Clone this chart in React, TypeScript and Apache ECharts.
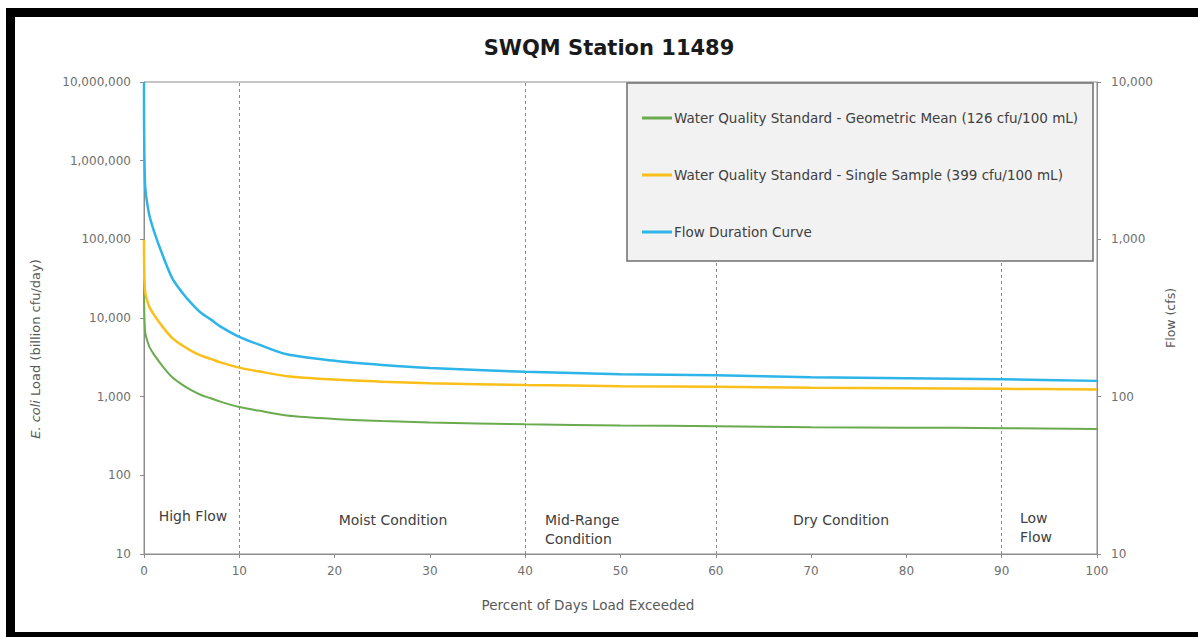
import React, { useEffect, useRef } from "react";
import * as echarts from "echarts";

const percentExceeded = [0, 0.1, 0.5, 1, 2, 3, 4, 5, 6, 7, 8, 10, 12, 15, 20, 25, 30, 40, 50, 60, 70, 80, 90, 100];
const geoMeanLoad = [31000, 7100, 4500, 3500, 2400, 1750, 1420, 1200, 1050, 955, 865, 740, 665, 575, 520, 490, 470, 445, 430, 422, 410, 404, 398, 388];
const singleSampleLoad = [98000, 22500, 14400, 11200, 7600, 5500, 4500, 3800, 3320, 3020, 2730, 2340, 2100, 1820, 1650, 1550, 1480, 1410, 1360, 1340, 1300, 1280, 1260, 1230];
const flowCfs = [10000, 2300, 1480, 1150, 780, 560, 460, 390, 340, 310, 280, 240, 215, 186, 169, 159, 152, 144, 139, 137, 133, 131, 129, 126];
const conditionBreaks = [10, 40, 60, 90];
const seriesNames = [
  "Water Quality Standard - Geometric Mean (126 cfu/100 mL)",
  "Water Quality Standard - Single Sample (399 cfu/100 mL)",
  "Flow Duration Curve",
];

const FONT = "DejaVu Sans";
const fmt = (v: number) => Math.round(v).toLocaleString("en-US");

export default function App() {
  const ref = useRef<HTMLDivElement>(null);
  useEffect(() => {
    if (!ref.current) return;
    const chart = echarts.init(ref.current, undefined, { renderer: "svg" });
    const pair = (arr: number[]) => percentExceeded.map((x, i) => [x, arr[i]]);
    const labelStyle = { color: "#6f6f6f", fontFamily: FONT, fontSize: 12 };
    const regionText = (text: string, x: number, y: number, align: string) => ({
      type: "text",
      x,
      y,
      z: 5,
      style: { text, fill: "#404040", font: `14px ${FONT}`, align, verticalAlign: "middle", lineHeight: 19 },
    });
    chart.setOption({
      animation: false,
      backgroundColor: "#ffffff",
      title: {
        text: "SWQM Station 11489",
        left: 604,
        top: 32,
        textAlign: "center",
        textStyle: { fontFamily: FONT, fontWeight: "bold", fontSize: 21, color: "#1a1a1a" },
      },
      grid: { left: 144, right: 101, top: 82, bottom: 83, show: true, borderColor: "#8c8c8c", borderWidth: 1 },
      legend: {
        orient: "vertical",
        left: 637,
        top: 106,
        icon: "rect",
        itemWidth: 30,
        itemHeight: 3,
        itemGap: 43,
        z: 20,
        textStyle: { fontFamily: FONT, fontSize: 13.5, color: "#404040", padding: [0, 0, 0, -3] },
        data: seriesNames,
      },
      xAxis: {
        type: "value",
        min: 0,
        max: 100,
        interval: 10,
        axisLine: { lineStyle: { color: "#8c8c8c" } },
        axisTick: { show: true, length: 4, lineStyle: { color: "#8c8c8c" } },
        axisLabel: { ...labelStyle, margin: 11 },
        splitLine: { show: false },
      },
      yAxis: [
        {
          type: "log",
          logBase: 10,
          min: 10,
          max: 10000000,
          splitNumber: 6,
          axisLine: { show: true, lineStyle: { color: "#8c8c8c" } },
          axisTick: { show: true, length: 4, lineStyle: { color: "#8c8c8c" } },
          axisLabel: { ...labelStyle, margin: 13, formatter: (v: number) => fmt(v) },
          splitLine: { show: false },
        },
        {
          type: "log",
          logBase: 10,
          min: 10,
          max: 10000,
          splitNumber: 3,
          position: "right",
          axisLine: { show: true, lineStyle: { color: "#8c8c8c" } },
          axisTick: { show: true, length: 4, lineStyle: { color: "#8c8c8c" } },
          axisLabel: { ...labelStyle, margin: 14, formatter: (v: number) => fmt(v) },
          splitLine: { show: false },
        },
      ],
      series: [
        {
          name: seriesNames[0],
          type: "line",
          yAxisIndex: 0,
          symbol: "none",
          smooth: 0.3,
          data: pair(geoMeanLoad),
          lineStyle: { color: "#6aab4f", width: 2 },
          itemStyle: { color: "#6aab4f" },
          z: 3,
        },
        {
          name: seriesNames[1],
          type: "line",
          yAxisIndex: 0,
          symbol: "none",
          smooth: 0.3,
          data: pair(singleSampleLoad),
          lineStyle: { color: "#fbbf1a", width: 2.5 },
          itemStyle: { color: "#fbbf1a" },
          z: 3,
        },
        {
          name: seriesNames[2],
          type: "line",
          yAxisIndex: 1,
          symbol: "none",
          smooth: 0.3,
          data: pair(flowCfs),
          lineStyle: { color: "#2db4e8", width: 2.5 },
          itemStyle: { color: "#2db4e8" },
          z: 3,
          markLine: {
            silent: true,
            symbol: "none",
            label: { show: false },
            lineStyle: { color: "#8c8c8c", type: [3, 3], width: 1 },
            data: conditionBreaks.map((x) => ({ xAxis: x })),
            z: 1,
          },
        },
      ],
      graphic: [
        {
          type: "rect",
          z: 10,
          shape: { x: 627, y: 83, width: 466, height: 178 },
          style: { fill: "#f2f2f2", stroke: "#6f6f6f", lineWidth: 1.5 },
        },
        {
          type: "rect",
          z: 30,
          shape: { x: 10.5, y: 12.5, width: 1200, height: 624 },
          style: { fill: "none", stroke: "#000000", lineWidth: 9 },
        },
        regionText("High Flow", 193, 516, "center"),
        regionText("Moist Condition", 393, 520, "center"),
        regionText("Mid-Range\nCondition", 545, 529, "left"),
        regionText("Dry Condition", 841, 520, "center"),
        regionText("Low\nFlow", 1020, 527, "left"),
        {
          type: "text",
          x: 35,
          y: 349,
          rotation: Math.PI / 2,
          style: {
            text: "{i|E. coli} Load (billion cfu/day)",
            fill: "#595959",
            font: `13px ${FONT}`,
            align: "center",
            verticalAlign: "middle",
            rich: { i: { fontStyle: "italic", fontFamily: FONT, fontSize: 13, fill: "#595959" } },
          },
        },
        {
          type: "text",
          x: 1170,
          y: 318,
          rotation: Math.PI / 2,
          style: { text: "Flow (cfs)", fill: "#595959", font: `12.5px ${FONT}`, align: "center", verticalAlign: "middle" },
        },
        {
          type: "text",
          x: 588,
          y: 605,
          style: { text: "Percent of Days Load Exceeded", fill: "#595959", font: `13.5px ${FONT}`, align: "center", verticalAlign: "middle" },
        },
      ],
    });
    return () => chart.dispose();
  }, []);
  return <div ref={ref} style={{ position: "fixed", left: 0, top: 0, width: 1198, height: 637 }} />;
}
